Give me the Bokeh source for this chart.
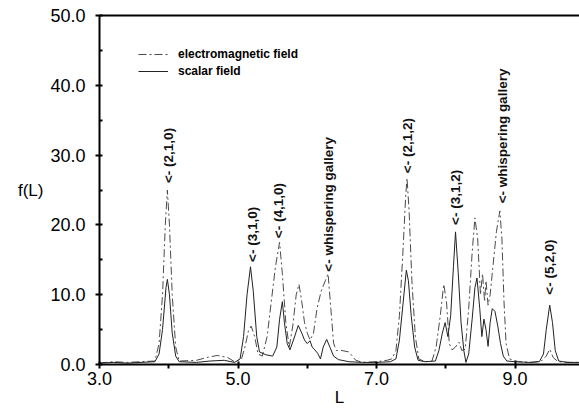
import math
from bokeh.plotting import figure
from bokeh.models import (FixedTicker, PrintfTickFormatter, LinearAxis, Label,
                          Legend, LegendItem, ColumnDataSource, Range1d)
from bokeh.core.properties import value
from bokeh.embed import file_html
from bokeh.resources import INLINE

# ---- data ----
scalar_L = [3.00, 3.20, 3.40, 3.60, 3.80, 3.86, 3.91, 3.96, 3.98, 4.01, 4.05, 4.10, 4.15,
            4.40, 4.60, 4.80, 4.95, 5.03, 5.08, 5.13, 5.18, 5.22, 5.27, 5.31, 5.40, 5.50,
            5.56, 5.60, 5.64, 5.67, 5.71, 5.75, 5.80, 5.87, 5.92, 5.96, 6.00, 6.04, 6.07,
            6.10, 6.15, 6.19, 6.23, 6.28, 6.33, 6.38, 6.45, 6.60, 6.80, 7.00, 7.20, 7.28,
            7.33, 7.38, 7.43, 7.46, 7.50, 7.55, 7.60, 7.70, 7.85, 7.90, 7.95, 7.99, 8.03,
            8.07, 8.11, 8.14, 8.18, 8.22, 8.26, 8.29, 8.33, 8.38, 8.42, 8.45, 8.49, 8.52,
            8.55, 8.58, 8.61, 8.64, 8.67, 8.71, 8.75, 8.79, 8.83, 8.88, 9.00, 9.20, 9.35,
            9.41, 9.45, 9.50, 9.54, 9.58, 9.63, 9.75, 9.93]
scalar_f = [0.2, 0.3, 0.2, 0.3, 0.4, 1.5, 5.0, 11.0, 12.2, 10.0, 4.5, 1.2, 0.4,
            0.3, 0.5, 0.6, 0.3, 0.8, 4.0, 10.0, 14.0, 10.5, 4.0, 1.8, 1.4, 1.2,
            2.5, 6.5, 9.0, 6.0, 3.0, 2.1, 3.5, 5.6, 4.5, 3.5, 3.0, 3.4, 2.5,
            2.2, 1.6, 0.8, 2.5, 3.6, 2.4, 1.2, 0.7, 0.4, 0.3, 0.3, 0.4, 0.8,
            3.5, 8.5, 13.5, 12.0, 7.0, 2.5, 0.6, 0.4, 0.5, 2.0, 4.5, 6.0, 4.0,
            7.0, 14.0, 19.0, 13.0, 6.0, 2.0, 0.3, 1.5, 6.5, 11.0, 12.4, 8.0, 4.0,
            6.5, 5.0, 2.6, 6.0, 8.0, 7.6, 5.5, 3.0, 1.2, 0.5, 0.4, 0.3, 0.4,
            1.5, 5.0, 8.5, 6.0, 2.0, 0.5, 0.3, 0.3]

em_L = [3.00, 3.20, 3.40, 3.60, 3.80, 3.86, 3.91, 3.95, 3.98, 4.01, 4.05, 4.10, 4.15,
        4.40, 4.55, 4.70, 4.85, 4.95, 5.05, 5.10, 5.15, 5.19, 5.24, 5.29, 5.35, 5.42,
        5.48, 5.54, 5.60, 5.64, 5.69, 5.74, 5.79, 5.84, 5.88, 5.92, 5.96, 6.00, 6.04,
        6.09, 6.14, 6.20, 6.26, 6.30, 6.34, 6.38, 6.42, 6.50, 6.60, 6.70, 6.80, 7.00,
        7.15, 7.22, 7.28, 7.33, 7.38, 7.42, 7.44, 7.47, 7.51, 7.56, 7.61, 7.70, 7.80,
        7.86, 7.92, 7.97, 8.01, 8.05, 8.09, 8.14, 8.19, 8.23, 8.28, 8.33, 8.38, 8.42,
        8.46, 8.50, 8.53, 8.56, 8.58, 8.61, 8.64, 8.68, 8.73, 8.78, 8.81, 8.84, 8.87,
        8.92, 9.05, 9.25, 9.38, 9.45, 9.50, 9.55, 9.62, 9.80, 9.93]
em_f = [0.2, 0.4, 0.3, 0.4, 0.5, 3.0, 10.0, 20.0, 25.0, 20.0, 10.0, 2.5, 0.5,
        0.6, 1.0, 1.3, 1.0, 0.4, 0.8, 2.5, 4.8, 5.5, 4.0, 1.5, 1.2, 4.0,
        9.0, 14.0, 17.5, 13.0, 6.0, 2.5, 5.5, 10.0, 11.5, 9.0, 6.0, 4.5, 3.5,
        4.5, 8.0, 10.5, 12.0, 13.0, 8.0, 3.0, 2.0, 2.0, 1.8, 0.6, 0.3, 0.4,
        0.6, 0.8, 2.0, 7.0, 16.0, 24.0, 26.7, 22.0, 12.0, 4.0, 0.8, 0.4, 0.5,
        2.5, 7.0, 11.5, 9.0, 3.0, 2.1, 2.5, 3.2, 2.0, 2.2, 8.0, 16.0, 21.0,
        18.0, 10.0, 13.0, 9.0, 12.0, 8.5, 10.0, 14.0, 19.0, 22.0, 18.0, 9.0, 3.0,
        0.8, 0.4, 0.3, 0.5, 1.2, 2.2, 1.0, 0.4, 0.3, 0.3]

note_text = ["<- (2,1,0)", "<- (3,1,0)", "<- (4,1,0)", "<- whispering gallery",
             "<- (2,1,2)", "<- (3,1,2)", "<- whispering gallery", "<- (5,2,0)"]
note_L = [4.00, 5.21, 5.59, 6.31, 7.45, 8.14, 8.82, 9.50]
note_f = [26.0, 14.7, 18.1, 13.3, 27.4, 20.0, 23.1, 10.0]

x_major = [3, 5, 7, 9]
x_minor = [4, 6, 8]
y_major = [0, 10, 20, 30, 40, 50]
y_minor = [5, 15, 25, 35, 45]

FONT = "Liberation Sans"

p = figure(frame_width=480, frame_height=349, output_backend="svg", toolbar_location=None,
           x_range=Range1d(3.0, 9.93), y_range=Range1d(0, 50),
           min_border_left=99, min_border_right=0, min_border_top=15, min_border_bottom=49)
p.outline_line_color = None
p.grid.visible = False
p.background_fill_alpha = 0
p.border_fill_color = "white"

r_em = p.line(em_L, em_f, line_color="#4a4a4a", line_width=1, line_dash="8 3 2 3")
r_sc = p.line(scalar_L, scalar_f, line_color="#222222", line_width=1)

src = ColumnDataSource(dict(x=note_L, y=note_f, t=note_text))
p.text(x="x", y="y", text="t", source=src, angle=math.pi / 2, text_align="left",
       text_baseline="middle", text_font=value(FONT), text_font_size="13.5px",
       text_font_style="bold", text_color="#111111")

for ax in (p.xaxis[0], p.yaxis[0]):
    ax.formatter = PrintfTickFormatter(format="%.1f")
    ax.axis_line_color = "black"
    ax.axis_line_width = 2
    ax.major_tick_line_color = "black"
    ax.major_tick_line_width = 2
    ax.minor_tick_line_color = "black"
    ax.minor_tick_line_width = 2
    ax.major_label_text_font = FONT
    ax.major_label_text_color = "black"
    ax.axis_label_text_font = FONT
    ax.axis_label_text_font_style = "normal"
    ax.axis_label_text_color = "black"

p.xaxis.ticker = FixedTicker(ticks=x_major, minor_ticks=x_minor)
p.yaxis.ticker = FixedTicker(ticks=y_major, minor_ticks=y_minor)
p.xaxis.major_tick_in = 3
p.xaxis.major_tick_out = 4
p.xaxis.minor_tick_in = 0
p.xaxis.minor_tick_out = 4
p.yaxis.major_tick_in = 3
p.yaxis.major_tick_out = 4
p.yaxis.minor_tick_in = 3
p.yaxis.minor_tick_out = 0
p.xaxis.major_label_text_font_size = "18px"
p.yaxis.major_label_text_font_size = "18px"
p.xaxis.major_label_standoff = 3
p.yaxis.major_label_standoff = 10
p.xaxis.axis_label = "L"
p.xaxis.axis_label_text_font_size = "17px"
p.xaxis.axis_label_standoff = 0

yax = p.yaxis[0]
if "axis_label_orientation" in yax.properties():
    yax.axis_label = "f(L)"
    yax.axis_label_orientation = "horizontal"
    yax.axis_label_text_font_size = "17px"
    yax.axis_label_standoff = 4
else:
    p.add_layout(Label(x=-64, y=175, x_units="screen", y_units="screen", text="f(L)",
                       text_font=FONT, text_font_size="17px", text_align="center",
                       text_baseline="middle", text_color="black"))

top = LinearAxis(ticker=FixedTicker(ticks=[]), major_tick_in=0, major_tick_out=0,
                 minor_tick_in=0, minor_tick_out=0, major_label_text_font_size="0px",
                 axis_line_color="black", axis_line_width=2)
p.add_layout(top, "above")

legend = Legend(items=[LegendItem(label="electromagnetic field", renderers=[r_em]),
                       LegendItem(label="scalar field", renderers=[r_sc])],
                location=(39, 286))
legend.label_text_font = FONT
legend.label_text_font_size = "12px"
legend.label_text_font_style = "bold"
legend.label_text_color = "black"
legend.glyph_width = 30
legend.glyph_height = 14
legend.label_height = 14
legend.label_standoff = 10
legend.spacing = 3
legend.padding = 0
legend.margin = 0
legend.border_line_color = None
legend.background_fill_alpha = 0
p.add_layout(legend, "center")

open("out.html", "w").write(file_html(p, INLINE))
